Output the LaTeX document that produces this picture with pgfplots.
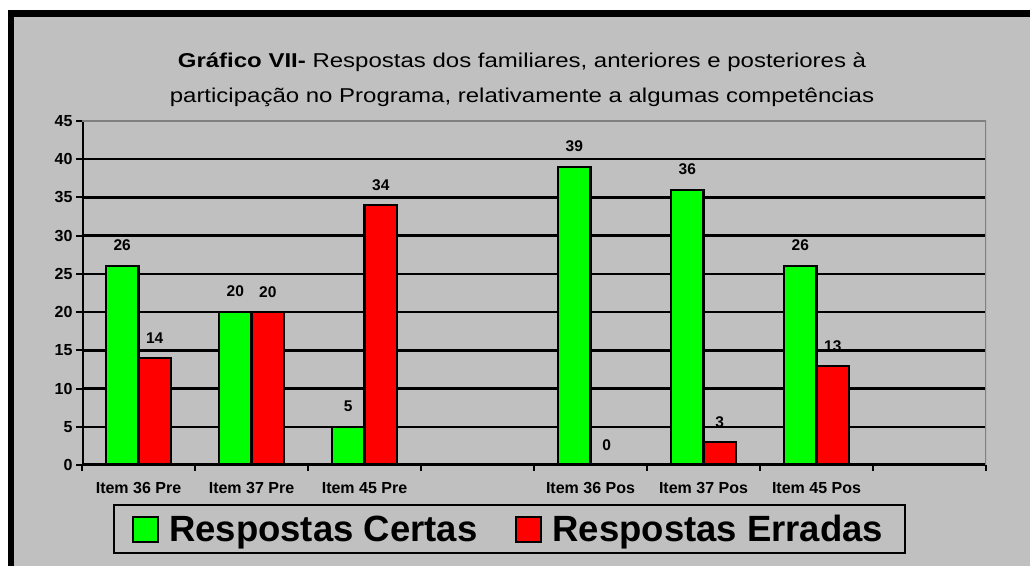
\documentclass[border=0pt]{standalone}
\usepackage{fontspec}
\setmainfont{Liberation Sans}
\newfontfamily\titlefont{Liberation Sans}[FakeStretch=1.2]
\usepackage{pgfplots}
\pgfplotsset{compat=1.18}
\definecolor{bg}{HTML}{C0C0C0}
\definecolor{gr}{HTML}{00FF00}
\definecolor{rd}{HTML}{FF0000}
\definecolor{bordergray}{HTML}{808080}
\begin{document}
\begin{tikzpicture}[x=1bp,y=1bp]
\fill[white] (0,0) rectangle (1030,566);
\fill[bg] (8,0) rectangle (1030,556);
\fill[black] (8,549) rectangle (1030,556);
\fill[black] (8,0) rectangle (14,556);
\node[anchor=base, font=\titlefont\fontsize{20bp}{24bp}\selectfont, inner sep=0pt] at (522,498) {\textbf{Gráfico VII-} Respostas dos familiares, anteriores e posteriores à};
\node[anchor=base, font=\titlefont\fontsize{20bp}{24bp}\selectfont, inner sep=0pt] at (522,463) {participação no Programa, relativamente a algumas competências};
\begin{axis}[
  at={(82bp,101bp)}, anchor=origin,
  scale only axis, width=904bp, height=344bp,
  xmin=0, xmax=8, ymin=0, ymax=45,
  ybar=0pt, bar width=32.5bp,
  xtick={0.5,1.5,2.5,4.5,5.5,6.5},
  xticklabels={Item 36 Pre, Item 37 Pre, Item 45 Pre, Item 36 Pos, Item 37 Pos, Item 45 Pos},
  minor xtick={0,1,...,8},
  xtick pos=left, ytick pos=left,
  tick align=outside,
  major x tick style={draw=none},
  minor x tick style={black, line width=2bp},
  minor tick length=6bp,
  major tick length=6bp,
  ytick={0,5,...,40},
  extra y ticks={45}, extra y tick style={grid=none},
  y tick style={black, line width=2bp},
  ymajorgrids, grid style={black, line width=2.5bp},
  axis line style={draw=none},
  tick label style={font=\fontsize{16bp}{19bp}\selectfont\bfseries},
  xticklabel style={yshift=-8bp},
  /pgf/number format/assume math mode=true,
  axis background/.style={fill=bg},
  nodes near coords,
  nodes near coords style={font=\fontsize{15.5bp}{18bp}\selectfont\bfseries, black},
  legend columns=2,
  legend style={at={(axis description cs:0.473,-0.1137)}, anchor=north,
    draw=black, line width=2bp, fill=bg, inner xsep=18bp, inner ysep=7bp,
    font=\fontsize{36.5bp}{40bp}\selectfont\bfseries,
    nodes={inner xsep=4bp, inner ysep=3bp},
    /tikz/every even column/.append style={column sep=34bp}},
  legend image code/.code={\draw[#1, line width=2bp] (0bp,-12.5bp) rectangle (25bp,12.5bp); \path (31bp,0bp);},
]
\addplot[fill=gr, draw=black, line width=2.2bp, nodes near coords style={yshift=11bp}]
  coordinates {(0.5,26) (1.5,20) (2.5,5) (4.5,39) (5.5,36) (6.5,26)};
\addplot[fill=rd, draw=black, line width=2.2bp, nodes near coords style={yshift=10bp}]
  coordinates {(0.5,14) (1.5,20) (2.5,34) (4.5,0) (5.5,3) (6.5,13)};
\legend{Respostas Certas, Respostas Erradas}
\draw[black, line width=3bp] (rel axis cs:0,0) -- (rel axis cs:1,0);
\draw[black, line width=3bp] (rel axis cs:0,0) -- (rel axis cs:0,1);
\draw[bordergray, line width=2bp] (rel axis cs:0,1) -- (rel axis cs:1,1) -- (rel axis cs:1,0);
\end{axis}
\end{tikzpicture}
\end{document}
